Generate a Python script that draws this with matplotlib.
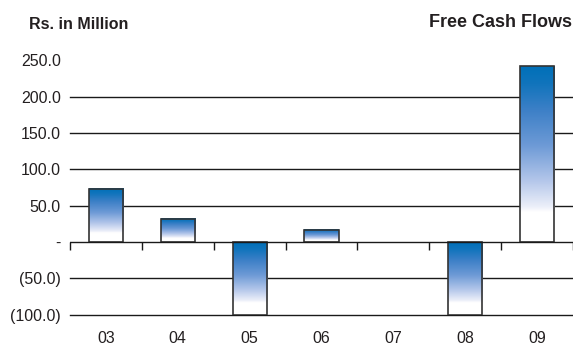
import numpy as np
import matplotlib
matplotlib.use("Agg")
import matplotlib.pyplot as plt
from matplotlib.colors import LinearSegmentedColormap

categories = ["03", "04", "05", "06", "07", "08", "09"]
values = [73, 32, -100, 17, 0, -100, 242]
ytick_values = [250, 200, 150, 100, 50, 0, -50, -100]
ytick_labels = ["250.0", "200.0", "150.0", "100.0", "50.0", "-", "(50.0)", "(100.0)"]
grid_values = [200, 150, 100, 50, -50, -100]

plt.rcParams['font.family'] = ['Liberation Sans', 'DejaVu Sans']
text_color = "#231f20"

fig = plt.figure(figsize=(5.73, 3.45), dpi=100)
ax = fig.add_axes([70/573, 30.3/345, 503/573, 254.2/345])
ymin, ymax = -100, 250
ax.set_ylim(ymin, ymax)
ax.set_xlim(0, len(categories))

cmap = LinearSegmentedColormap.from_list(
    "fcf", [(0.0, "#ffffff"), (0.17, "#ffffff"), (0.20, "#eceff9"),
            (0.35, "#b3c6ea"), (0.55, "#6d9ad6"), (0.75, "#3d80c7"),
            (0.9, "#1174bc"), (1.0, "#0070b8")])
grad = np.linspace(0, 1, 256).reshape(-1, 1)

width = 0.477
for i, v in enumerate(values):
    if v == 0:
        continue
    x0 = i + 0.5 - width / 2
    bottom, top = (0, v) if v > 0 else (v, 0)
    ax.imshow(grad, extent=[x0, x0 + width, bottom, top], origin="lower",
              aspect="auto", cmap=cmap, zorder=2, interpolation="bilinear")
    ax.bar(i + 0.5, v, width=width, facecolor="none", edgecolor="#333333",
           linewidth=1.2, zorder=3)

for g in grid_values:
    ax.axhline(g, color="#1a1a1a", linewidth=1.0, zorder=1, clip_on=False)
ax.axhline(0, color="#1a1a1a", linewidth=1.0, zorder=4)

for s in ax.spines.values():
    s.set_visible(False)

ax.set_yticks(ytick_values, labels=ytick_labels)
ax.tick_params(axis="y", length=0, pad=6.5, labelsize=11.5, labelcolor=text_color)
ax.set_xticks(np.arange(len(categories)) + 0.5, labels=categories)
ax.tick_params(axis="x", length=0, pad=12, labelsize=11.5, labelcolor=text_color)

zero_frac = (0 - ymin) / (ymax - ymin)
sec = ax.secondary_xaxis(zero_frac)
sec.spines["bottom"].set_visible(False)
sec.set_xticks(np.arange(len(categories) + 1), labels=[""] * (len(categories) + 1))
sec.tick_params(axis="x", direction="out", length=5.5, width=1.0, color="#1a1a1a")

fig.text(29/573, 1 - 29/345, "Rs. in Million", fontsize=11.5, fontweight="bold",
         color=text_color, ha="left", va="baseline")
fig.text(572/573, 1 - 27/345, "Free Cash Flows", fontsize=13, fontweight="bold",
         color=text_color, ha="right", va="baseline")

fig.savefig("out.png", dpi=100)
